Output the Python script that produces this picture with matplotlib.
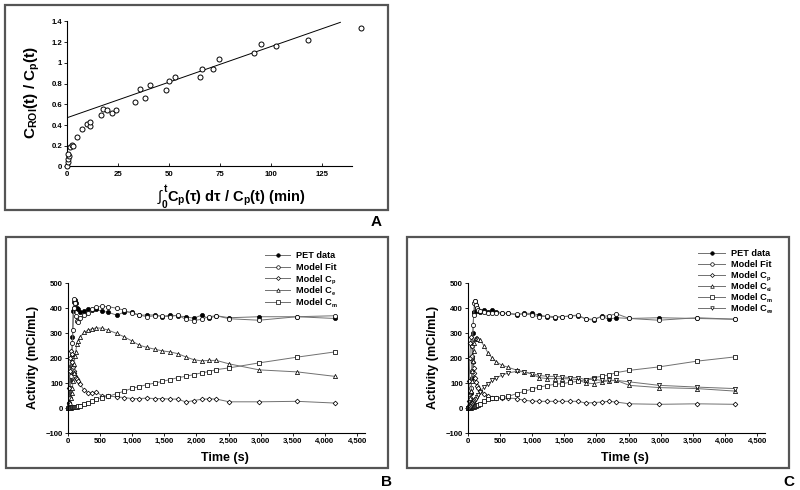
import matplotlib
matplotlib.use("Agg")
import matplotlib.pyplot as plt
from matplotlib.patches import Rectangle
from matplotlib.lines import Line2D

plt.rcParams['font.family'] = ['Liberation Sans', 'DejaVu Sans']
plt.rcParams['mathtext.fontset'] = 'custom'
plt.rcParams['mathtext.rm'] = 'Liberation Sans'
plt.rcParams['mathtext.bf'] = 'Liberation Sans:bold'
plt.rcParams['mathtext.it'] = 'Liberation Sans:italic'
plt.rcParams['mathtext.fallback'] = 'stixsans'

# ---------------- Panel A data ----------------
a_x = [0, 0.3, 0.6, 1.0, 0.6, 1.3, 2.3, 3.0, 5.0, 7.5, 9.6, 11.3, 11.3, 16.8, 17.5,
       19.7, 22.0, 23.8, 33.1, 35.6, 38.2, 40.5, 48.5, 49.8, 53.0, 65.0, 66.3, 71.7,
       74.6, 91.5, 95.0, 102.3, 118.0, 144.0]
a_y = [0.0, 0.04, 0.07, 0.10, 0.12, 0.19, 0.21, 0.20, 0.28, 0.36, 0.41, 0.39, 0.43,
       0.50, 0.55, 0.54, 0.52, 0.54, 0.62, 0.75, 0.66, 0.79, 0.74, 0.82, 0.86, 0.86,
       0.94, 0.94, 1.04, 1.09, 1.18, 1.16, 1.22, 1.34]
fit_x = [0, 134]
fit_y = [0.47, 1.39]
a_xticks = [0, 25, 50, 75, 100, 125]
a_yticks = [0, 0.2, 0.4, 0.6, 0.8, 1.0, 1.2, 1.4]
a_yticklabels = ['0', '0.2', '0.4', '0.6', '0.8', '1', '1.2', '1.4']

# ---------------- Panels B/C data ----------------
t = [0, 10, 20, 30, 40, 50, 60, 70, 80, 90, 100, 110, 120, 140, 160, 190, 250, 315,
     380, 445, 525, 630, 760, 880, 995, 1110, 1230, 1350, 1470, 1590, 1710, 1835,
     1955, 2080, 2190, 2310, 2510, 2975, 3565, 4155]

b_pet = [2, 5, 20, 60, 114, 170, 212, 285, 390, 400, 425, 433, 420, 403, 395, 385,
         389, 395, 393, 395, 388, 384, 372, 385, 385, 372, 373, 373, 366, 373, 369,
         366, 360, 372, 359, 370, 362, 366, 366, 359]
b_fit = [0, 2, 10, 40, 80, 130, 200, 260, 312, 400, 436, 420, 370, 350, 346, 360,
         373, 382, 395, 405, 408, 406, 400, 392, 379, 373, 366, 370, 369, 366, 373,
         355, 350, 356, 366, 370, 358, 352, 366, 370]
b_cp = [0, 20, 80, 150, 200, 230, 215, 185, 165, 150, 140, 128, 122, 118, 110, 95,
        72, 62, 60, 64, 50, 48, 45, 42, 38, 38, 40, 38, 38, 36, 36, 24, 30, 35, 37,
        36, 25, 25, 27, 20]
b_ce = [0, 2, 5, 10, 20, 40, 60, 80, 110, 140, 175, 210, 225, 255, 270, 285, 303,
        312, 318, 321, 320, 312, 299, 285, 269, 252, 243, 236, 229, 225, 218, 205,
        194, 189, 191, 191, 177, 153, 145, 127]
b_cm = [0, 0, 1, 1, 2, 2, 3, 3, 4, 4, 5, 5, 5, 6, 7, 10, 17, 21, 28, 35, 42, 47, 58,
        68, 79, 86, 94, 100, 107, 114, 122, 127, 134, 141, 146, 154, 161, 181, 204, 225]

c_pet = [2, 5, 10, 20, 35, 60, 120, 200, 300, 383, 386, 430, 413, 400, 390, 386,
         393, 386, 393, 386, 382, 379, 373, 380, 379, 373, 366, 362, 366, 369, 370,
         357, 352, 369, 356, 362, 359, 362, 359, 356]
c_fit = [0, 2, 8, 20, 40, 80, 150, 250, 332, 373, 420, 430, 413, 403, 393, 390,
         386, 382, 379, 382, 379, 379, 377, 377, 373, 366, 369, 366, 366, 369, 373,
         357, 356, 366, 370, 378, 359, 352, 362, 356]
c_cp = [0, 30, 110, 200, 260, 285, 250, 210, 185, 160, 140, 120, 105, 90, 80, 70,
        58, 48, 42, 40, 40, 40, 38, 31, 28, 27, 27, 27, 27, 27, 27, 20, 22, 24, 27,
        24, 17, 15, 17, 15]
c_cei = [0, 2, 8, 20, 40, 70, 110, 150, 190, 230, 260, 275, 280, 279, 276, 272,
         250, 220, 200, 185, 172, 163, 152, 145, 136, 122, 118, 118, 118, 117, 114,
         100, 98, 105, 109, 111, 91, 82, 78, 68]
c_cm = [0, 0, 1, 1, 2, 2, 3, 4, 5, 6, 7, 8, 9, 11, 13, 17, 28, 36, 40, 41, 43, 47,
        58, 67, 76, 84, 90, 95, 98, 103, 107, 114, 122, 127, 133, 142, 151, 165, 188, 205]
c_cee = [0, 0, 1, 3, 6, 9, 13, 17, 21, 25, 29, 33, 37, 44, 52, 64, 84, 98, 111, 122,
         131, 141, 147, 145, 138, 131, 127, 127, 125, 122, 122, 114, 115, 111, 111,
         111, 105, 91, 84, 78]

bc_xticks = [0, 500, 1000, 1500, 2000, 2500, 3000, 3500, 4000, 4500]
bc_yticks = [-100, 0, 100, 200, 300, 400, 500]

# legend labels: (main text, subscript)
b_labels = [('PET data', ''), ('Model Fit', ''), ('Model C', 'p'), ('Model C', 'e'),
            ('Model C', 'm')]
c_labels = [('PET data', ''), ('Model Fit', ''), ('Model C', 'p'), ('Model C', 'ei'),
            ('Model C', 'm'), ('Model C', 'ee')]

W, H = 800, 490
fig = plt.figure(figsize=(W / 100, H / 100), dpi=100)
renderer = fig.canvas.get_renderer()


def fbox(x0, y0, x1, y1):
    return [x0 / W, 1 - y1 / H, (x1 - x0) / W, (y1 - y0) / H]


# panel frames
for (x0, y0, x1, y1) in [(5, 5, 388, 210), (6, 237, 388, 468), (407, 237, 789, 468)]:
    fig.add_artist(Rectangle((x0 / W, 1 - y1 / H), (x1 - x0) / W, (y1 - y0) / H,
                             transform=fig.transFigure, fill=False, ec='#555555', lw=1.6))
for lab, (px, py) in zip(['A', 'B', 'C'], [(376, 222), (386, 482), (789, 482)]):
    fig.text(px / W, 1 - py / H, lab, ha='center', va='center', fontsize=11, fontweight='bold')

TICKFS = 5.6


def style_axes(ax):
    for s in ['top', 'right']:
        ax.spines[s].set_visible(False)
    for s in ['left', 'bottom']:
        ax.spines[s].set_linewidth(0.8)
    for lbl in ax.get_xticklabels() + ax.get_yticklabels():
        lbl.set_fontweight('bold')
        lbl.set_fontsize(TICKFS)


# ---------------- Panel A ----------------
axA = fig.add_axes(fbox(67, 21.3, 352, 166.5))
axA.plot(fit_x, fit_y, color='black', lw=0.7)
axA.plot(a_x, a_y, linestyle='none', marker='o', ms=3.6, mfc='white', mec='black',
         mew=0.7, clip_on=False, zorder=3)
axA.set_xlim(0, 139.7)
axA.set_ylim(0, 1.4)
axA.set_xticks(a_xticks)
axA.set_yticks(a_yticks)
axA.set_yticklabels(a_yticklabels)
axA.tick_params(axis='x', direction='in', length=2, width=0.6, pad=3)
axA.tick_params(axis='y', direction='out', length=2, width=0.6, pad=1.5)
style_axes(axA)
axA.set_ylabel(r'C$_\mathbf{ROI}$(t) / C$_\mathbf{p}$(t)', fontsize=11, fontweight='bold')
axA.yaxis.set_label_coords(32 / W, 1 - 92 / H, transform=fig.transFigure)
axA.yaxis.label.set_va('center')
axA.set_xlabel(r'$\int_\mathbf{0}^\mathbf{t}$C$_\mathbf{p}$(τ) dτ / C$_\mathbf{p}$(t) (min)',
               fontsize=10.5, fontweight='bold')
axA.xaxis.set_label_coords(231 / W, 1 - 197 / H, transform=fig.transFigure)
axA.xaxis.label.set_va('center')

# ---------------- Panels B and C ----------------
LC = '#707070'
LW = 0.7
MS = 3.0
LEGFS = 6.6


def panel(ax, series, markers, labels, leg_x, leg_y0, leg_dy, ylab_x, xlab_x):
    handles = []
    for (vals, mk) in zip(series, markers):
        ms = 2.4 if mk == 'D' else MS
        if mk == 'filled':
            h, = ax.plot(t, vals, color=LC, lw=LW, marker='o', ms=ms, mfc='black',
                         mec='black', mew=0.5, clip_on=False)
        else:
            h, = ax.plot(t, vals, color=LC, lw=LW, marker=mk, ms=ms, mfc='white',
                         mec='black', mew=0.55, clip_on=False)
        handles.append(h)
    ax.set_xlim(0, 4620)
    ax.set_ylim(-100, 500)
    ax.set_xticks(bc_xticks)
    ax.set_xticklabels([f'{v:,}' for v in bc_xticks])
    ax.set_yticks(bc_yticks)
    ax.set_yticklabels(['\u2212100' if v < 0 else str(v) for v in bc_yticks])
    ax.tick_params(axis='both', direction='out', length=2, width=0.6, pad=1.5)
    style_axes(ax)
    ax.set_ylabel('Activity (mCi/mL)', fontsize=9, fontweight='bold')
    ax.yaxis.set_label_coords(ylab_x / W, 1 - 357 / H, transform=fig.transFigure)
    ax.yaxis.label.set_va('center')
    ax.set_xlabel('Time (s)', fontsize=9, fontweight='bold')
    ax.xaxis.set_label_coords(xlab_x / W, 1 - 458 / H, transform=fig.transFigure)
    ax.xaxis.label.set_va('center')
    # legend with evenly spaced rows
    x0, x1, xt = leg_x
    for i, (h, (main, sub)) in enumerate(zip(handles, labels)):
        y = 1 - (leg_y0 + i * leg_dy) / H
        fig.add_artist(Line2D([x0 / W, x1 / W], [y, y], transform=fig.transFigure,
                              color=LC, lw=LW))
        fig.add_artist(Line2D([(x0 + x1) / 2 / W], [y], transform=fig.transFigure,
                              linestyle='none', marker=h.get_marker(),
                              ms=h.get_markersize() * 0.85, mfc=h.get_markerfacecolor(),
                              mec='black', mew=0.5))
        base = y - 3.2 / H
        txt = fig.text(xt / W, base, main, ha='left', va='baseline',
                       fontsize=LEGFS, fontweight='bold')
        if sub:
            bb = txt.get_window_extent(renderer=renderer)
            fig.text(bb.x1 / W + 0.3 / W, base - 1.6 / H, sub, ha='left', va='baseline',
                     fontsize=LEGFS * 0.62, fontweight='bold')


axB = fig.add_axes(fbox(67.9, 283.3, 364.8, 433))
panel(axB, [b_pet, b_fit, b_cp, b_ce, b_cm], ['filled', 'o', 'D', '^', 's'],
      b_labels, (265, 290, 296), 255, 11.7, 33, 225)

axC = fig.add_axes(fbox(467.9, 283.3, 764.8, 433))
panel(axC, [c_pet, c_fit, c_cp, c_cei, c_cm, c_cee], ['filled', 'o', 'D', '^', 's', 'v'],
      c_labels, (698, 725, 731), 252.7, 11.1, 433, 625)

fig.savefig('out.png', dpi=100)
